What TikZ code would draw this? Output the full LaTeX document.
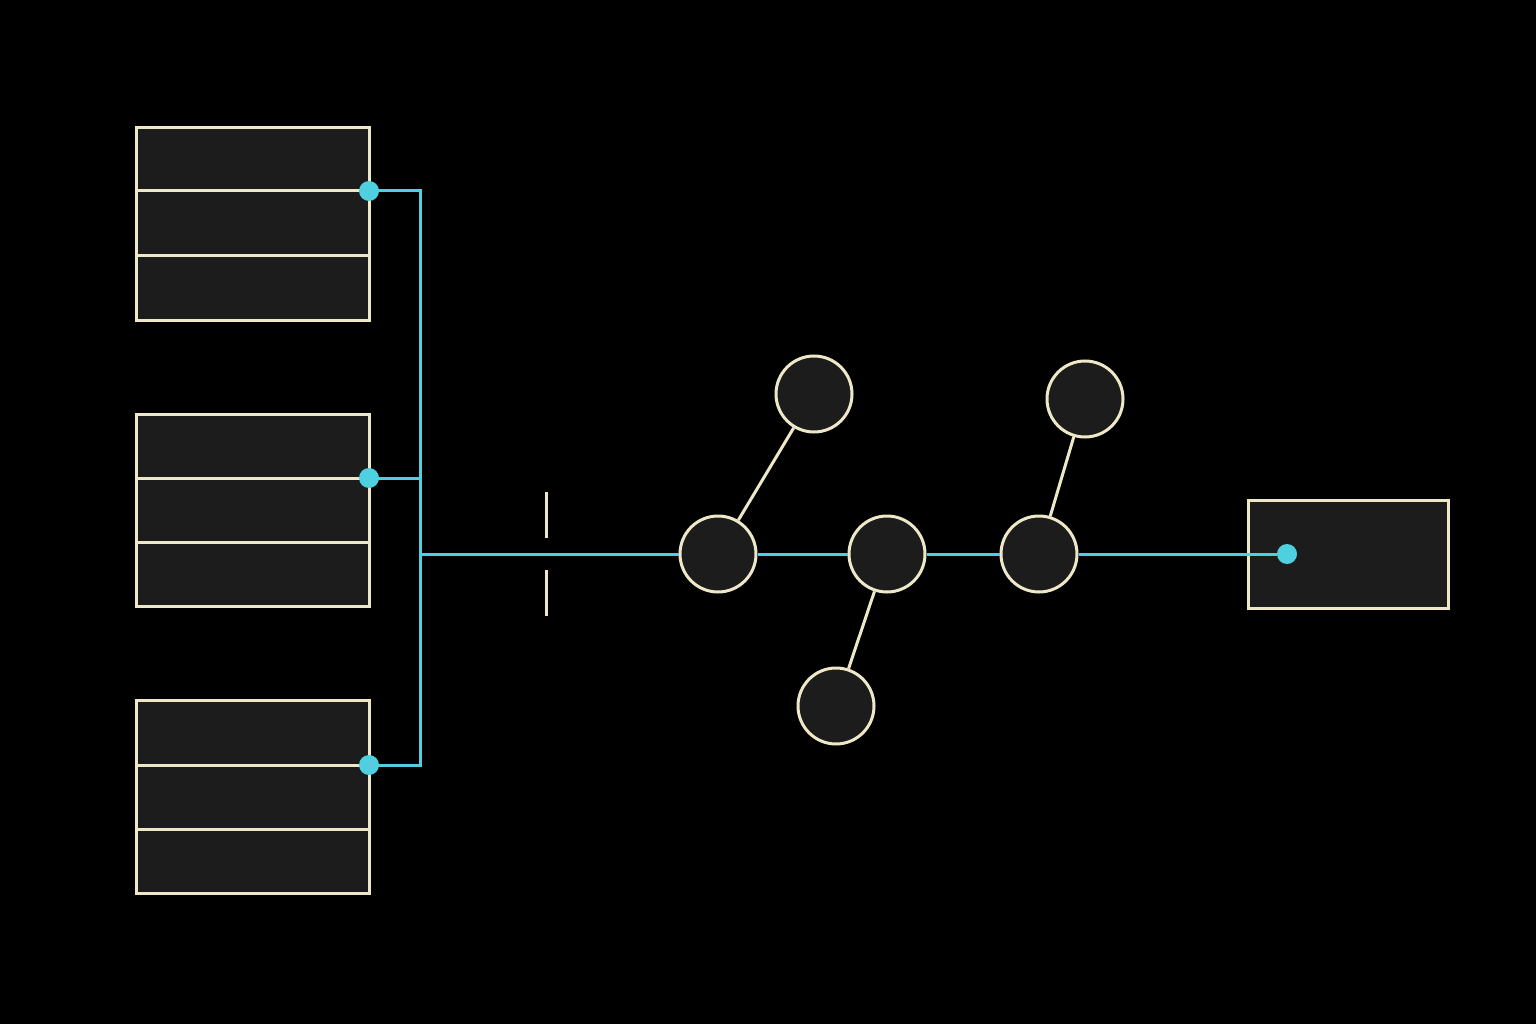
\documentclass[tikz,border=0pt]{standalone}
\begin{document}
\begin{tikzpicture}[x=1pt,y=-1pt,
 cream/.style={draw=crm,line width=3pt},
 box/.style={cream,fill=fil},
 circ/.style={circle,cream,fill=fil,minimum size=76pt,inner sep=0pt},
 wire/.style={draw=blu,line width=3pt},
 dot/.style={circle,fill=blu,minimum size=20pt,inner sep=0pt}]
\definecolor{crm}{HTML}{EFE8C8}\definecolor{blu}{HTML}{4FD0E0}\definecolor{fil}{HTML}{1C1C1C}
\fill[black] (0,0) rectangle (1536,1024);
\useasboundingbox (0,0) rectangle (1536,1024);
\foreach \t/\a/\b/\c in {128/191/256/320, 414/478/542/606, 700/765/829/893}{
 \draw[box] (136,\t) rectangle (369,\c);
 \draw[cream] (136,\a) -- (369,\a); \draw[cream] (136,\b) -- (369,\b);}
\coordinate (j1) at (420,191);\coordinate (j2) at (420,478);\coordinate (j3) at (420,765);\coordinate (jm) at (420,554);
\node[circ] (A) at (718,554) {};
\node[circ] (B) at (887,554) {};
\node[circ] (C) at (1039,554) {};
\node[circ] (T1) at (814,394) {};
\node[circ] (T2) at (1085,399) {};
\node[circ] (D) at (836,706) {};
\draw[box] (1248,500) rectangle (1448,608);
\node[dot] (o) at (1287,554) {};
\draw[wire] (369,191) -- (j1) -- (j3) -- (369,765);
\draw[wire] (369,478) -- (j2);
\draw[wire] (jm) -- (A) -- (B) -- (C) -- (o);
\draw[cream] (A) -- (T1); \draw[cream] (B) -- (D); \draw[cream] (C) -- (T2);
\draw[cream] (546,492) -- (546,538); \draw[cream] (546,570) -- (546,616);
\node[dot] (d1) at (369,191) {};\node[dot] (d2) at (369,478) {};\node[dot] (d3) at (369,765) {};
\end{tikzpicture}
\end{document}
